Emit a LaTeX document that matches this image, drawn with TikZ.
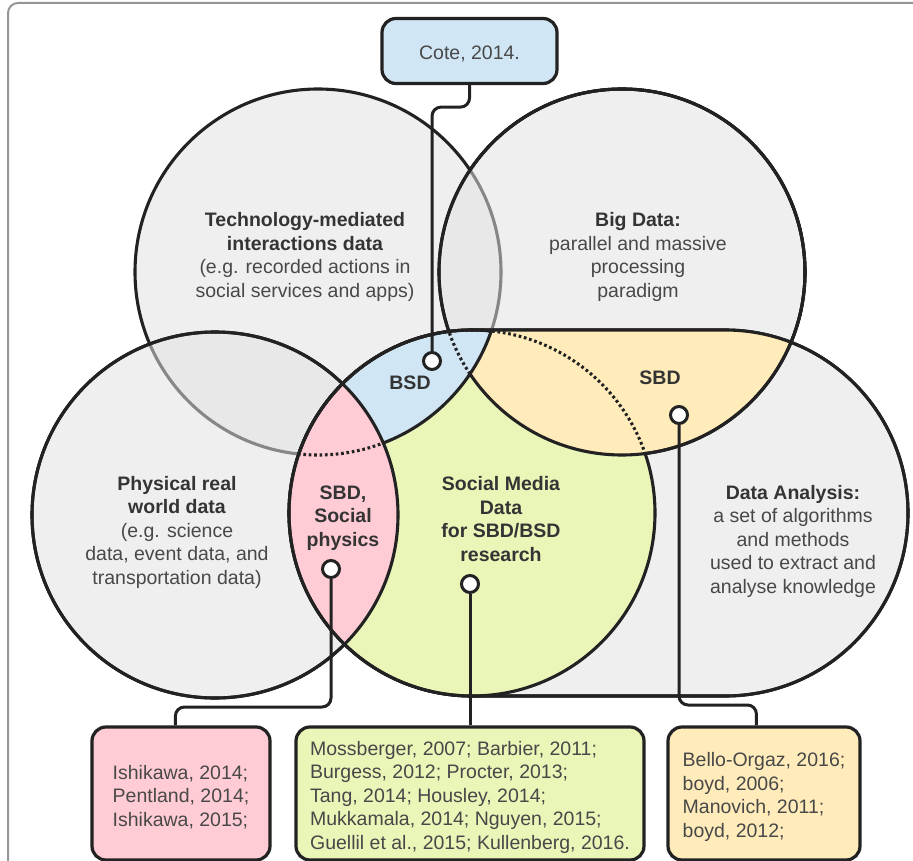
\documentclass[tikz,border=0pt]{standalone}
\usepackage{fontspec}
\setmainfont{Liberation Sans}
\usetikzlibrary{calc}
\definecolor{gfill}{RGB}{225,225,225}
\definecolor{dafill}{RGB}{239,239,239}
\definecolor{lblue}{RGB}{209,230,245}
\definecolor{lpink}{RGB}{255,204,213}
\definecolor{lgreen}{RGB}{234,245,184}
\definecolor{lyellow}{RGB}{255,236,186}
\definecolor{ink}{RGB}{34,34,34}
\definecolor{txt}{RGB}{72,72,72}
\definecolor{btxt}{RGB}{52,52,52}
\definecolor{framec}{RGB}{150,150,150}
\newcommand\headb[1]{\textcolor{btxt}{\bfseries #1}}
\newcommand\lift[1]{\rule{0pt}{#1}}
\def\TMc{(318,-272) circle[radius=183]}
\def\BDc{(622,-272) circle[radius=183]}
\def\PRc{(215,-515) circle[radius=183]}
\def\SMc{(472,-513) circle[radius=183]}
\def\DApath{(472,-330) -- (725,-330) arc[start angle=90,end angle=-90,radius=183] -- (472,-696) arc[start angle=270,end angle=90,radius=183] -- cycle}
\def\rectcw{(-60,60) -- (1000,60) -- (1000,-960) -- (-60,-960) -- cycle}
\begin{document}
\begin{tikzpicture}[x=1pt,y=1pt,
  outl/.style={draw=ink,line width=3.1pt},
  dotline/.style={draw=ink,line width=3.1pt,dash pattern=on 2.7pt off 2.7pt},
  conn/.style={draw=ink,line width=3pt,rounded corners=9pt},
  dotnode/.style={circle,draw=ink,fill=white,line width=3pt,minimum size=17pt,inner sep=0pt},
  refbox/.style={rounded corners=14pt,draw=ink,line width=3.2pt,align=left,inner sep=0pt,
     font=\fontsize{19.5}{23.5}\selectfont,text=txt},
  lab/.style={align=center,font=\fontsize{19.5}{23.5}\selectfont,text=txt},
  grayc/.style={fill=gfill,fill opacity=0.53,draw=ink,line width=3.1pt}]
\clip (0,0) rectangle (913,-861);
% frame
\draw[draw=framec,line width=2pt,rounded corners=10pt] (8,-3) rectangle (990,-950);
% gray circles
\path[grayc] \TMc;
\path[grayc] \BDc;
\path[grayc] \PRc;
% data analysis shape
\path[fill=dafill,outl] \DApath;
% coloured regions
\fill[lgreen] \SMc;
\begin{scope}\clip \BDc; \fill[lyellow] \DApath; \end{scope}
\begin{scope}\clip \TMc; \fill[lblue] \SMc; \end{scope}
\begin{scope}\clip \PRc; \fill[lpink] \SMc; \end{scope}
% outlines
\draw[outl] \DApath;
\begin{scope}\clip \rectcw \BDc; \draw[outl] \SMc; \end{scope}
\begin{scope}\clip \TMc; \draw[outl] \SMc; \end{scope}
\begin{scope}\clip \BDc; \draw[dotline] \SMc; \end{scope}
\begin{scope}\clip \rectcw \TMc; \draw[outl] \BDc; \end{scope}
\begin{scope}\clip \rectcw \SMc; \draw[outl] \BDc; \end{scope}
\begin{scope}\clip \TMc; \clip \SMc; \draw[dotline] \BDc; \end{scope}
\begin{scope}\clip \SMc; \clip \rectcw \PRc; \draw[outl] \TMc; \end{scope}
\begin{scope}\clip \SMc; \clip \PRc; \draw[dotline] \TMc; \end{scope}
\draw[outl] \PRc;
% texts
\node[lab] (tTM) at (305,-257) {\headb{Technology-mediated}\\\headb{interactions data}\\(e.g. recorded actions in\\social services and apps)};
\node[lab] (tBD) at (638,-257) {\headb{Big Data:}\\parallel and massive\\processing\\paradigm};
\node[lab] (tPR) at (177,-532) {\headb{Physical real}\\\headb{world data}\\(e.g. science\\data, event data, and\\transportation data)};
\node[lab] (tDA) at (793,-541) {\headb{Data Analysis:}\\a set of algorithms\\and methods\\used to extract and\\analyse knowledge};
\node[lab] (tSM) at (501,-519) {\headb{Social Media}\\\headb{Data}\\\headb{for SBD/BSD}\\\headb{research}};
\node[lab] (tSP) at (343,-518) {\headb{SBD,}\\\headb{Social}\\\headb{physics}};
\node[lab] (tBSD) at (410,-383) {\headb{BSD}};
\node[lab] (tSBD) at (660,-378) {\headb{SBD}};
% reference boxes
\node[refbox,fill=lblue,minimum width=175pt,minimum height=65pt,align=center] (bCote) at (469.5,-51) {\lift{20pt}Cote, 2014.};
\node[refbox,fill=lpink,minimum width=178pt,minimum height=133pt] (bPR) at (181,-793.5) {\lift{21pt}Ishikawa, 2014;\\Pentland, 2014;\\Ishikawa, 2015;};
\node[refbox,fill=lgreen,minimum width=348pt,minimum height=133pt] (bSM) at (470,-793.5) {\lift{22pt}Mossberger, 2007; Barbier, 2011;\\Burgess, 2012; Procter, 2013;\\Tang, 2014; Housley, 2014;\\Mukkamala, 2014; Nguyen, 2015;\\Guellil et al., 2015; Kullenberg, 2016.};
\node[refbox,fill=lyellow,minimum width=192pt,minimum height=133pt] (bSBD) at (764,-793.5) {\lift{21pt}Bello-Orgaz, 2016;\\boyd, 2006;\\Manovich, 2011;\\boyd, 2012;};
% dots
\node[dotnode] (dBSD) at (432,-361) {};
\node[dotnode] (dSP) at (331,-569) {};
\node[dotnode] (dSM) at (470,-584) {};
\node[dotnode] (dSBD) at (679,-415) {};
% connectors
\draw[conn] (bCote.south) -- ++(0,-22) -| (dBSD);
\draw[conn] (dSP) -- (331,-707) -| ([xshift=85pt]bPR.north west);
\draw[conn] (dSM) -- (bSM);
\draw[conn] (dSBD) -- (679,-705) -| ([xshift=90pt]bSBD.north west);
\end{tikzpicture}
\end{document}
